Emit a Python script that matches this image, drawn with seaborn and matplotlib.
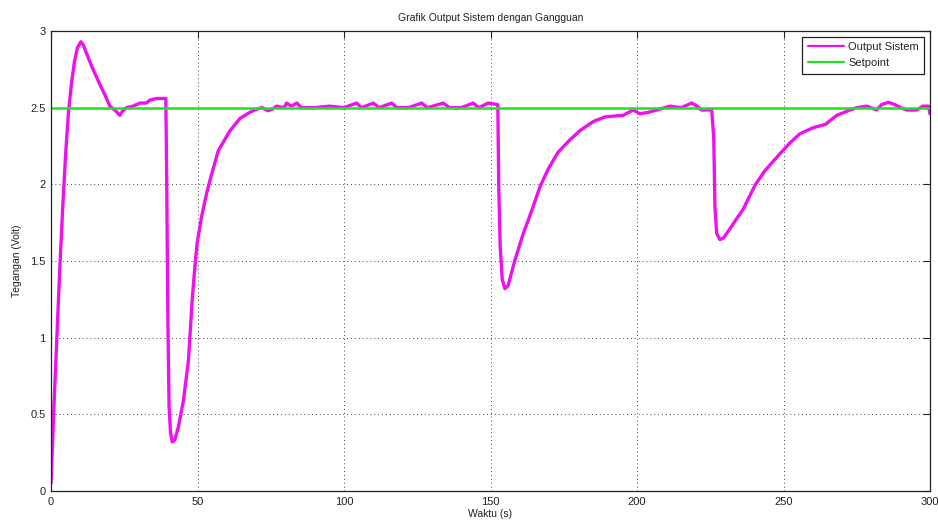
import matplotlib
matplotlib.use("Agg")
import matplotlib.pyplot as plt
import seaborn as sns
import pandas as pd

# Time axis (s) and measured output voltage (V)
waktu = [0, 0.5, 1, 2, 3, 4, 5, 6, 7, 8, 9, 10.2, 11, 12, 13.9, 16.7, 18.5, 20.1, 22, 23.5,
         24.5, 25.8, 28, 30.4, 32.5, 33.8, 36, 39.2, 39.5, 39.9, 40.3, 40.8, 41.4, 42.2, 43.5,
         45.2, 46.9, 48.2, 49.1, 49.9, 51.4, 53.1, 54.3, 57.1, 61.1, 64.5, 67.9, 70.2, 72, 74,
         75.5, 77, 79.5, 80.4, 82, 83.9, 85.5, 90, 95, 100, 104.3, 106, 110, 112, 116.3, 118,
         122, 126.5, 128.5, 133.9, 136, 140, 144.1, 146, 149.2, 152.5, 152.8, 153.3, 154,
         154.9, 156, 158.4, 161.2, 164.1, 166.9, 169.7, 173.1, 177.1, 180.5, 185.1, 189.1,
         195.3, 198.7, 201, 204, 206.7, 211.3, 215, 218.7, 220.5, 222, 225.5, 226.2, 226.6,
         227.2, 228.3, 229.5, 231.7, 236.3, 240.3, 243.7, 248.8, 252.2, 255.6, 260.2, 264.2,
         268.2, 272.7, 275, 278.4, 281.8, 283.5, 285.8, 288, 290, 292, 295.5, 297.6, 299.5, 300]
output_sistem = [0.05, 0.3, 0.55, 1.0, 1.45, 1.85, 2.2, 2.48, 2.66, 2.8, 2.89, 2.93, 2.91, 2.86,
                 2.77, 2.65, 2.58, 2.51, 2.48, 2.45, 2.48, 2.5, 2.51, 2.53, 2.53, 2.55, 2.56,
                 2.56, 2.0, 1.1, 0.55, 0.38, 0.32, 0.33, 0.42, 0.59, 0.85, 1.25, 1.46, 1.62,
                 1.79, 1.94, 2.03, 2.22, 2.35, 2.43, 2.47, 2.49, 2.5, 2.48, 2.49, 2.51, 2.5,
                 2.53, 2.51, 2.53, 2.5, 2.5, 2.51, 2.5, 2.53, 2.5, 2.53, 2.5, 2.53, 2.5, 2.5,
                 2.53, 2.5, 2.53, 2.5, 2.5, 2.53, 2.5, 2.53, 2.52, 2.0, 1.6, 1.38, 1.32, 1.34,
                 1.51, 1.68, 1.83, 1.985, 2.10, 2.21, 2.29, 2.35, 2.41, 2.44, 2.45, 2.485, 2.46,
                 2.47, 2.485, 2.51, 2.5, 2.53, 2.51, 2.485, 2.485, 2.3, 1.85, 1.68, 1.64, 1.65,
                 1.71, 1.84, 1.995, 2.09, 2.20, 2.27, 2.33, 2.37, 2.39, 2.45, 2.485, 2.5, 2.51,
                 2.485, 2.52, 2.535, 2.52, 2.5, 2.485, 2.485, 2.51, 2.51, 2.46]

# Setpoint reference
setpoint_t = [0, 300]
setpoint_v = [2.5, 2.5]

x_ticks = [0, 50, 100, 150, 200, 250, 300]
y_ticks = [0, 0.5, 1, 1.5, 2, 2.5, 3]
x_ticklabels = ["0", "50", "100", "150", "200", "250", "300"]
y_ticklabels = ["0", "0.5", "1", "1.5", "2", "2.5", "3"]

sns.set_style("white")
plt.rcParams["font.family"] = ["Liberation Sans", "DejaVu Sans"]

df_out = pd.DataFrame({"Waktu": waktu, "Tegangan": output_sistem})
df_sp = pd.DataFrame({"Waktu": setpoint_t, "Tegangan": setpoint_v})

fig = plt.figure(figsize=(9.38, 5.2), dpi=100)
ax = fig.add_axes([51 / 938, 1 - 491 / 520, (930 - 51) / 938, (491 - 31) / 520])

sns.lineplot(data=df_out, x="Waktu", y="Tegangan", ax=ax, color="#ee11ee", lw=2.4,
             sort=False, estimator=None, label="Output Sistem")
sns.lineplot(data=df_sp, x="Waktu", y="Tegangan", ax=ax, color="#22e022", lw=1.8,
             sort=False, estimator=None, label="Setpoint")

ax.set_xlim(0, 300)
ax.set_ylim(0, 3)
ax.set_xticks(x_ticks)
ax.set_xticklabels(x_ticklabels)
ax.set_yticks(y_ticks)
ax.set_yticklabels(y_ticklabels)
ax.tick_params(direction="in", length=5, width=0.8, color="#222222",
               top=True, right=True, labelsize=8, pad=4, labelcolor="#222222")
for side in ax.spines.values():
    side.set_color("#222222")
    side.set_linewidth(0.9)

ax.grid(True, linestyle=(0, (1, 3)), color="#444444", linewidth=0.7)
ax.set_axisbelow(True)

ax.set_title("Grafik Output Sistem dengan Gangguan", fontsize=7.5, color="#222222", pad=7)
ax.set_xlabel("Waktu (s)", fontsize=7.5, color="#222222", labelpad=1.5)
ax.set_ylabel("Tegangan (Volt)", fontsize=7.5, color="#222222", labelpad=6)

leg = ax.legend(loc="upper right", fontsize=8, frameon=True, fancybox=False,
                edgecolor="#222222", framealpha=1, borderpad=0.5, handlelength=3.3,
                handletextpad=0.35, labelspacing=0.55, borderaxespad=0.5)
leg.get_frame().set_linewidth(0.9)
for h in leg.get_lines():
    h.set_linewidth(1.6)

fig.savefig("out.png", dpi=100)
